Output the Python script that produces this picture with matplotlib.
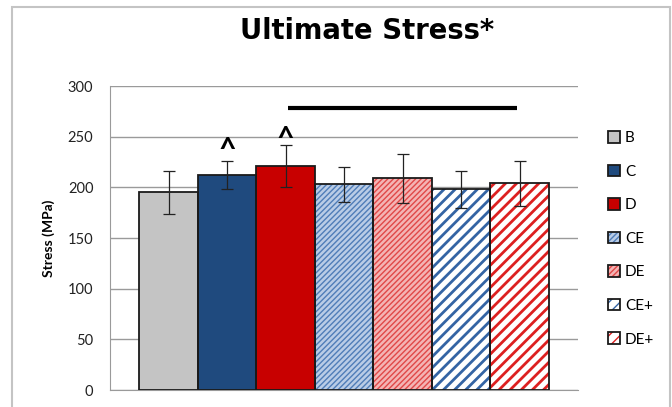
import matplotlib
matplotlib.use("Agg")
import matplotlib.pyplot as plt
from matplotlib.patches import Rectangle
from matplotlib.legend_handler import HandlerTuple

# data
groups = ["B", "C", "D", "CE", "DE", "CE+", "DE+"]
stress = [195, 212, 221, 203, 209, 198, 204]
stress_sd = [21, 14, 21, 17, 24, 18, 22]

# styling per bar
face = ["#C4C4C4", "#1F4A7E", "#C80000", "#B9CCE6", "#F4B4B4", "white", "white"]
stripe = [None, None, None, "#4F7DB8", "#E04848", "#3464A4", "#DD2020"]
hatches = [None, None, None, "//////", "//////", "///", "///"]
hatch_lw = [1, 1, 1, 1.0, 1.0, 2.0, 2.0]

# annotations
sig_line = (2.05, 5.95, 278)
caret_x = [1, 2]
caret_y = [251, 262]

plt.rcParams["font.family"] = ["Lato", "DejaVu Sans"]

fig = plt.figure(figsize=(6.72, 4.07), dpi=100)
ax = fig.add_axes([110 / 672, 17 / 407, 468 / 672, 304 / 407])

x = list(range(len(groups)))
handles = []
for i in x:
    if hatches[i]:
        fill = ax.bar(i, stress[i], width=1, color=face[i], edgecolor=stripe[i],
                      hatch=hatches[i], linewidth=0, zorder=2)[0]
        try:
            fill.set_hatch_linewidth(hatch_lw[i])
        except AttributeError:
            pass
    else:
        fill = ax.bar(i, stress[i], width=1, color=face[i], linewidth=0, zorder=2)[0]
    edge = ax.bar(i, stress[i], width=1, fill=False, edgecolor="#1A1A1A",
                  linewidth=1.3, zorder=3)[0]
    handles.append((fill, edge))

ax.errorbar(x, stress, yerr=stress_sd, fmt="none", ecolor="#222222",
            elinewidth=0.9, capsize=4, capthick=0.9, zorder=4)

ax.plot([sig_line[0], sig_line[1]], [sig_line[2], sig_line[2]], color="black",
        linewidth=3, solid_capstyle="butt", zorder=5, clip_on=False)
for cx, cy in zip(caret_x, caret_y):
    ax.text(cx, cy, "^", ha="center", va="top", fontsize=22, fontweight="bold",
            zorder=5)

ax.set_xlim(-1, 7)
ax.set_ylim(0, 300)
ax.set_yticks(range(0, 301, 50))
ax.set_xticks([])
ax.tick_params(axis="y", length=0, pad=12, labelsize=10.5, labelcolor="#222222")
ax.yaxis.grid(True, color="#9A9A9A", linewidth=1)
ax.set_axisbelow(True)
for s in ["top", "right"]:
    ax.spines[s].set_visible(False)
ax.spines["left"].set_color("#9A9A9A")
ax.spines["bottom"].set_color("#9A9A9A")
ax.set_ylabel("Stress (MPa)", fontsize=10, fontweight="bold", labelpad=9)

leg = ax.legend(handles, groups, handler_map={tuple: HandlerTuple(ndivide=1, pad=0)},
                loc="upper left", bbox_to_anchor=(1.05, 0.872), frameon=False,
                fontsize=11, handlelength=0.8, handleheight=0.8, handletextpad=0.35,
                labelspacing=1.27, borderaxespad=0)

fig.text(367 / 672, 1 - 39 / 407, "Ultimate Stress*", ha="center", va="baseline",
         fontsize=19.8, fontweight="bold", family=["DejaVu Sans"])

fig.patches.append(Rectangle((12 / 672, -0.05), 658 / 672, 1.05 - 7 / 407,
                             transform=fig.transFigure, fill=False,
                             edgecolor="#C4C4C4", linewidth=1.5))

fig.savefig("out.png", dpi=100)
